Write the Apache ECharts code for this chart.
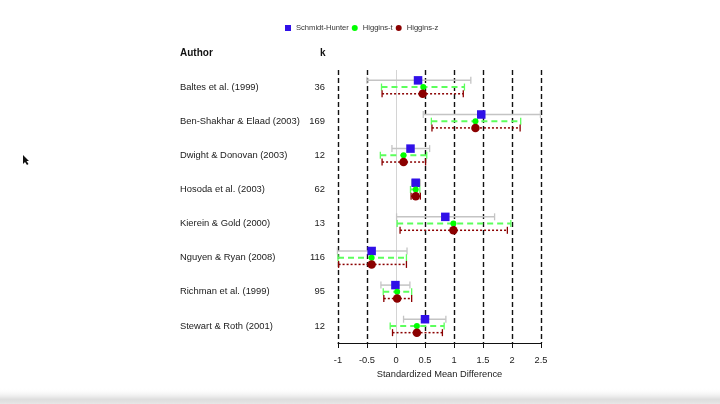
<!DOCTYPE html>
<html>
<head>
<meta charset="utf-8">
<script src="https://cdn.jsdelivr.net/npm/echarts@6/dist/echarts.min.js"></script>
<style>html,body{margin:0;padding:0;background:#fff}#c{width:720px;height:404px}</style>
</head>
<body>
<div id="c"></div>
<script>
const authors = ['Baltes et al. (1999)','Ben-Shakhar & Elaad (2003)','Dwight & Donovan (2003)','Hosoda et al. (2003)','Kierein & Gold (2000)','Nguyen & Ryan (2008)','Richman et al. (1999)','Stewart & Roth (2001)'];
const kValues = [36,169,12,62,13,116,95,12];
const shEst = [0.38,1.47,0.25,0.34,0.85,-0.42,-0.01,0.50];
const shLo  = [-0.50,0.47,-0.07,0.27,0.01,-1.01,-0.26,0.13];
const shHi  = [1.29,2.49,0.58,0.42,1.70,0.19,0.24,0.86];
const htEst = [0.47,1.37,0.13,0.34,0.99,-0.42,0.02,0.36];
const htLo  = [-0.25,0.61,-0.27,0.25,0.02,-1.00,-0.22,-0.10];
const htHi  = [1.18,2.15,0.53,0.41,1.98,0.18,0.27,0.83];
const hzEst = [0.46,1.37,0.13,0.34,0.99,-0.42,0.02,0.36];
const hzLo  = [-0.24,0.62,-0.24,0.26,0.07,-0.99,-0.21,-0.06];
const hzHi  = [1.16,2.14,0.51,0.42,1.92,0.18,0.27,0.80];

const FONT = 'Liberation Sans, Arial, Helvetica, sans-serif';
const OFF = 0.197;

function barData(lo, hi){ return lo.map((v,i)=>[v, hi[i], i]); }
function ptData(est){ return est.map((v,i)=>[v, i]); }

function makeBar(frac, color, width, dash, cap){
  return function(params, api){
    const a = api.coord([api.value(0), api.value(2)]);
    const b = api.coord([api.value(1), api.value(2)]);
    const band = api.size([0,1])[1];
    const y = a[1] + frac*band;
    return {type:'group', children:[
      {type:'line', shape:{x1:a[0],y1:y,x2:b[0],y2:y}, style:{stroke:color,lineWidth:width,lineDash:dash}},
      {type:'line', shape:{x1:a[0],y1:y-cap,x2:a[0],y2:y+cap}, style:{stroke:color,lineWidth:1.3}},
      {type:'line', shape:{x1:b[0],y1:y-cap,x2:b[0],y2:y+cap}, style:{stroke:color,lineWidth:1.3}}
    ]};
  };
}

const chart = echarts.init(document.getElementById('c'), null, {renderer:'canvas'});
chart.setOption({
  animation:false,
  backgroundColor:'#fff',
  textStyle:{fontFamily:FONT},
  legend:{
    top:19, left:280, itemWidth:6, itemHeight:6, itemGap:3,
    textStyle:{fontSize:7.6, color:'#333', fontFamily:FONT},
    data:[{name:'Schmidt-Hunter',icon:'rect'},{name:'Higgins-t',icon:'circle'},{name:'Higgins-z',icon:'circle'}]
  },
  grid:{left:338, right:179, top:70, bottom:61, containLabel:false},
  xAxis:{
    type:'value', min:-1, max:2.5, interval:0.5,
    name:'Standardized Mean Difference', nameLocation:'middle', nameGap:24,
    nameTextStyle:{fontSize:9.3, color:'#222', fontFamily:FONT},
    axisLine:{show:true, onZero:false, lineStyle:{color:'#111', width:1}},
    axisTick:{show:true, length:5, lineStyle:{color:'#111'}},
    axisLabel:{fontSize:9.3, color:'#222', margin:13, fontFamily:FONT},
    splitLine:{show:true, lineStyle:{color:['#111','#111','rgba(0,0,0,0)','#111','#111','#111','#111','#111'], type:[5,3], width:1.4}}
  },
  yAxis:[
    {type:'category', data:authors, inverse:true, position:'left',
     axisLine:{show:false}, axisTick:{show:false}, splitLine:{show:false},
     axisLabel:{align:'left', margin:158, fontSize:9.4, color:'#1a1a1a', fontFamily:FONT}},
    {type:'category', data:kValues.map(String), inverse:true, position:'left',
     axisLine:{show:false}, axisTick:{show:false}, splitLine:{show:false},
     axisLabel:{align:'right', margin:13, fontSize:9.4, color:'#1a1a1a', fontFamily:FONT}}
  ],
  graphic:[
    {type:'text', left:180, top:48, style:{text:'Author', font:'bold 10px '+FONT, fill:'#111'}},
    {type:'text', left:320, top:48, style:{text:'k', font:'bold 10px '+FONT, fill:'#111'}},
    {type:'polygon', shape:{points:[[23,155],[23,164],[25,162],[27,165],[28.5,164],[26.5,161],[29,161]]}, style:{fill:'#111'}},
    {type:'rect', shape:{x:0,y:388,width:720,height:16}, style:{fill:new echarts.graphic.LinearGradient(0,0,0,1,[{offset:0,color:'rgba(255,255,255,0)'},{offset:0.7,color:'rgba(200,200,200,0.6)'},{offset:1,color:'rgba(225,225,225,0.8)'}])}, silent:true}
  ],
  series:[
    {name:'SH-CI', type:'custom', yAxisIndex:0, renderItem:makeBar(-OFF,'#c4c4c4',1.5,null,3.5), encode:{x:[0,1], y:2}, data:barData(shLo,shHi)},
    {name:'HT-CI', type:'custom', yAxisIndex:0, renderItem:makeBar(0,'#5cff5c',2,[6,4],3.5), encode:{x:[0,1], y:2}, data:barData(htLo,htHi)},
    {name:'HZ-CI', type:'custom', yAxisIndex:0, renderItem:makeBar(OFF,'#8b0000',1.5,[2,2],3.5), encode:{x:[0,1], y:2}, data:barData(hzLo,hzHi)},
    {name:'Schmidt-Hunter', type:'scatter', yAxisIndex:0, symbol:'rect', symbolSize:8.5, symbolOffset:[0,-6.7], itemStyle:{color:'#3010e8', opacity:1}, data:ptData(shEst), z:3,
     markLine:{silent:true, symbol:'none', label:{show:false}, lineStyle:{color:'#d4d4d4', type:'solid', width:1}, data:[{xAxis:0}], z:1}},
    {name:'Higgins-t', type:'scatter', yAxisIndex:0, symbol:'circle', symbolSize:6, itemStyle:{color:'#00ff00', opacity:1}, data:ptData(htEst), z:3},
    {name:'Higgins-z', type:'scatter', yAxisIndex:0, symbol:'circle', symbolSize:8.5, symbolOffset:[0,6.7], itemStyle:{color:'#8b0000', opacity:1}, data:ptData(hzEst), z:3}
  ]
});
</script>
</body>
</html>
